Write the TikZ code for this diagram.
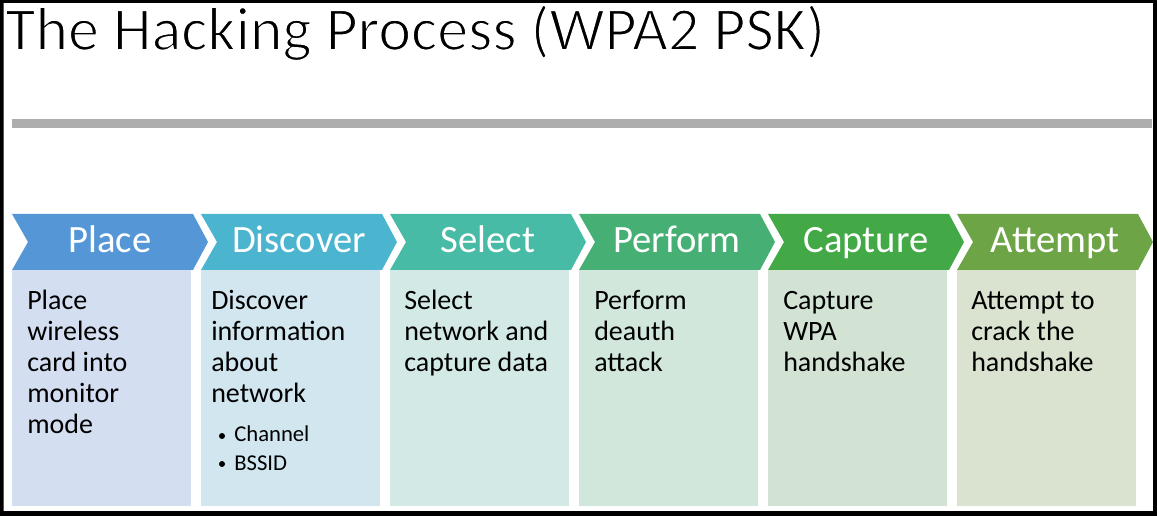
\documentclass[tikz,border=0pt]{standalone}
\usepackage{fontspec}
\setmainfont{Carlito}
% step header colours
\definecolor{hA}{HTML}{5597D6}
\definecolor{hB}{HTML}{4BB4CE}
\definecolor{hC}{HTML}{48BBA6}
\definecolor{hD}{HTML}{46B074}
\definecolor{hE}{HTML}{43A846}
\definecolor{hF}{HTML}{6DA446}
% step body tints
\definecolor{bA}{HTML}{D3DEF1}
\definecolor{bB}{HTML}{D2E6EF}
\definecolor{bC}{HTML}{D2E9E5}
\definecolor{bD}{HTML}{D2E7DB}
\definecolor{bE}{HTML}{D2E3D4}
\definecolor{bF}{HTML}{D9E3D0}
\definecolor{rulegray}{HTML}{ADADAD}
% a left-aligned block whose baseline is that of its first line
\newcommand{\linesblock}[1]{\parbox[t]{130pt}{\raggedright #1}}
% lighter title lettering: glyphs filled, then edged with a thin white stroke
\newcommand{\lighttext}[1]{\special{pdf:literal direct 2 Tr 1 1 1 RG 1.2 w}#1\special{pdf:literal direct 0 Tr 0 0 0 RG}}
\begin{document}
\begin{tikzpicture}[x=0.75pt,y=-0.75pt,
  headtext/.style={anchor=base, inner sep=0, text=white, font=\fontsize{29}{32}\selectfont},
  bodytext/.style={anchor=base west, inner sep=0, font=\fontsize{21}{23.25}\selectfont},
  bullettext/.style={anchor=base west, inner sep=0, font=\fontsize{17}{21}\selectfont},
  bulletdot/.style={circle, fill=black, inner sep=0, minimum size=4.5pt}]
\useasboundingbox (0,0) rectangle (1157,516);
% outer frame
\fill[black, even odd rule] (0,0) rectangle (1157,516) (3.5,3) rectangle (1153,511);
% title and rule under it
\node[anchor=base west, inner sep=0, font=\fontsize{46.5}{50}\selectfont] (title) at (5,50) {\lighttext{The Hacking Process (WPA2 PSK)}};
\fill[rulegray] (12,119.5) rectangle (1152,128.5);
% chevron headers with their body panels
\foreach \i/\hd/\hc/\bc in {0/Place/hA/bA, 1/Discover/hB/bB, 2/Select/hC/bC, 3/Perform/hD/bD, 4/Capture/hE/bE, 5/Attempt/hF/bF} {
  \pgfmathsetmacro\xo{12+189*\i}
  \fill[\bc] (\xo,270) rectangle ++(179,236);
  \fill[\hc] (\xo,214) -- ++(181,0) -- ++(15,28) -- ++(-15,28) -- ++(-181,0) -- ++(16,-28) -- cycle;
  \node[headtext] (head\i) at (\xo+98,253) {\hd};
}
% body texts
\node[bodytext] (body0) at (27,310) {\linesblock{Place\\wireless\\card into\\monitor\\mode}};
\node[bodytext] (body1) at (211,310) {\linesblock{Discover\\information\\about\\network}};
\node[bulletdot] (dot1) at (222,436) {};
\node[bullettext] (item1) at (234,442) {Channel};
\node[bulletdot] (dot2) at (222,464) {};
\node[bullettext] (item2) at (234,470) {BSSID};
\node[bodytext] (body2) at (404,310) {\linesblock{Select\\network and\\capture data}};
\node[bodytext] (body3) at (594,310) {\linesblock{Perform\\deauth\\attack}};
\node[bodytext] (body4) at (783,310) {\linesblock{Capture\\WPA\\handshake}};
\node[bodytext] (body5) at (971,310) {\linesblock{Attempt to\\crack the\\handshake}};
\end{tikzpicture}
\end{document}
